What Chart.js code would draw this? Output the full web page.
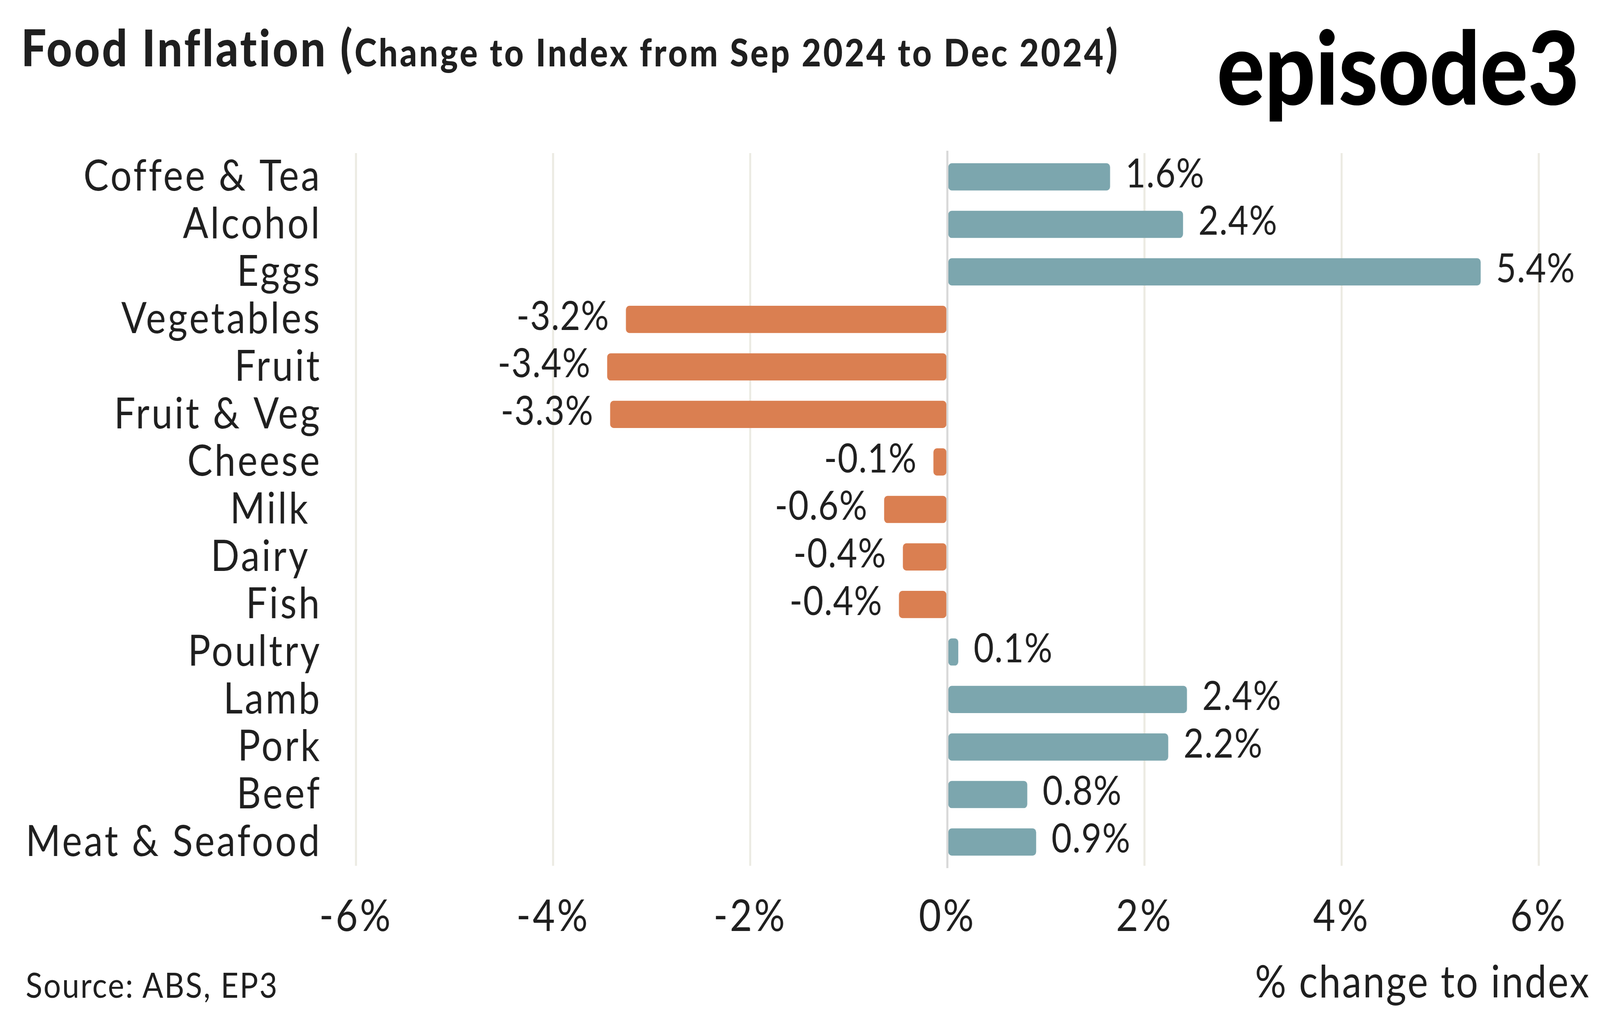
<!DOCTYPE html>
<html>
<head>
<meta charset="utf-8">
<script src="https://cdn.jsdelivr.net/npm/chart.js@4"></script>
<style>
html,body{margin:0;padding:0;background:#fff;overflow:hidden;}
#wrap{position:absolute;left:0;top:0;width:4675px;height:2594px;font-family:Lato,sans-serif;color:#1f1f1f;transform-origin:0 0;}
.txt{position:absolute;white-space:nowrap;line-height:1.2;}
#title{left:62px;top:42px;font-size:130px;font-weight:900;letter-spacing:6px;}
#title span{font-size:98px;letter-spacing:6px;}
#logo{right:60px;top:11px;font-size:260px;font-weight:900;letter-spacing:0;color:#000;}
#source{left:75px;top:2466px;font-size:90px;letter-spacing:3.5px;}
#xtitle{right:28px;top:2442px;font-size:114px;letter-spacing:4px;}
canvas{position:absolute;left:0;top:0;}
</style>
</head>
<body>
<div id="wrap">
<canvas id="barChart" width="4675" height="2594"></canvas>
<div class="txt" id="title">Food Inflation (<span>Change to Index from Sep 2024 to Dec 2024</span>)</div>
<div class="txt" id="logo">episode3</div>
<div class="txt" id="source">Source: ABS, EP3</div>
<div class="txt" id="xtitle">% change to index</div>
</div>
<script>
var categories = ["Coffee & Tea","Alcohol","Eggs","Vegetables","Fruit","Fruit & Veg","Cheese","Milk ","Dairy ","Fish","Poultry","Lamb","Pork","Beef","Meat & Seafood"];
var values = [1.65,2.39,5.41,-3.26,-3.45,-3.42,-0.14,-0.64,-0.45,-0.49,0.11,2.43,2.24,0.81,0.90];
var valueLabels = ["1.6%","2.4%","5.4%","-3.2%","-3.4%","-3.3%","-0.1%","-0.6%","-0.4%","-0.4%","0.1%","2.4%","2.2%","0.8%","0.9%"];
var xTicks = [-6,-4,-2,0,2,4,6];

var colPos = "#7ca6ae";
var colNeg = "#da7f51";
var txtCol = "#1f1f1f";

// page is laid out at 4675x2594; the window may be narrower, so fill it
var W = 4675, H = 2594;
var sx = window.innerWidth / W, sy = window.innerHeight / H;
document.getElementById('wrap').style.transform = 'scale(' + sx + ',' + sy + ')';

//labels at the end of each bar
var barLabels = {
	id:'barLabels',
	beforeDraw:function(chart){
		chart.ctx.letterSpacing = '6px';
	},
	afterDatasetsDraw:function(chart){
		var ctx = chart.ctx;
		var xs = chart.scales.x;
		var area = chart.chartArea;
		// grey zero line sits on top of the bars
		var x0 = xs.getPixelForValue(0);
		ctx.save();
		ctx.strokeStyle = "#d9d9d9";
		ctx.lineWidth = 6;
		ctx.beginPath();
		ctx.moveTo(x0, area.top - 6);
		ctx.lineTo(x0, area.bottom + 6);
		ctx.stroke();

		ctx.font = "102px Lato";
		ctx.letterSpacing = '2px';
		ctx.fillStyle = txtCol;
		ctx.textBaseline = "middle";
		chart.getDatasetMeta(0).data.forEach(function(bar, i){
			if(values[i] >= 0){
				ctx.textAlign = "left";
				ctx.fillText(valueLabels[i], bar.x + 45, bar.y - 6);
			} else {
				ctx.textAlign = "right";
				ctx.fillText(valueLabels[i], bar.x - 48, bar.y - 6);
			}
		});
		ctx.restore();
	}
};

var ctxB = document.getElementById("barChart").getContext('2d');
var myBarChart = new Chart(ctxB, {
	type:'bar',
	data:{
		labels: categories,
		datasets:[{
			data: values,
			backgroundColor: values.map(function(v){ return v >= 0 ? colPos : colNeg; }),
			barThickness: 69,
			borderRadius: 10,
			borderSkipped: false
		}]
	},
	options:{
		indexAxis:'y',
		responsive:false,
		devicePixelRatio:1,
		animation:false,
		layout:{padding:{top:392, right:179, bottom:0, left:0}},
		plugins:{legend:{display:false}, tooltip:{enabled:false}},
		scales:{
			x:{
				min:-6, max:6,
				afterBuildTicks:function(scale){ scale.ticks = xTicks.map(function(v){ return {value:v}; }); },
				afterFit:function(scale){ scale.height = 377; },
				ticks:{
					callback:function(v){ return v + '%'; },
					font:{family:'Lato', size:112},
					color:txtCol,
					padding:64
				},
				grid:{color:'#ecebe3', lineWidth:6, drawTicks:false},
				border:{display:false}
			},
			y:{
				afterFit:function(scale){ scale.width = 1040; },
				ticks:{
					autoSkip:false,
					font:{family:'Lato', size:110},
					color:txtCol,
					padding:100
				},
				grid:{display:false, drawTicks:false},
				border:{display:false}
			}
		}
	},
	plugins:[barLabels]
});
</script>
</body>
</html>
